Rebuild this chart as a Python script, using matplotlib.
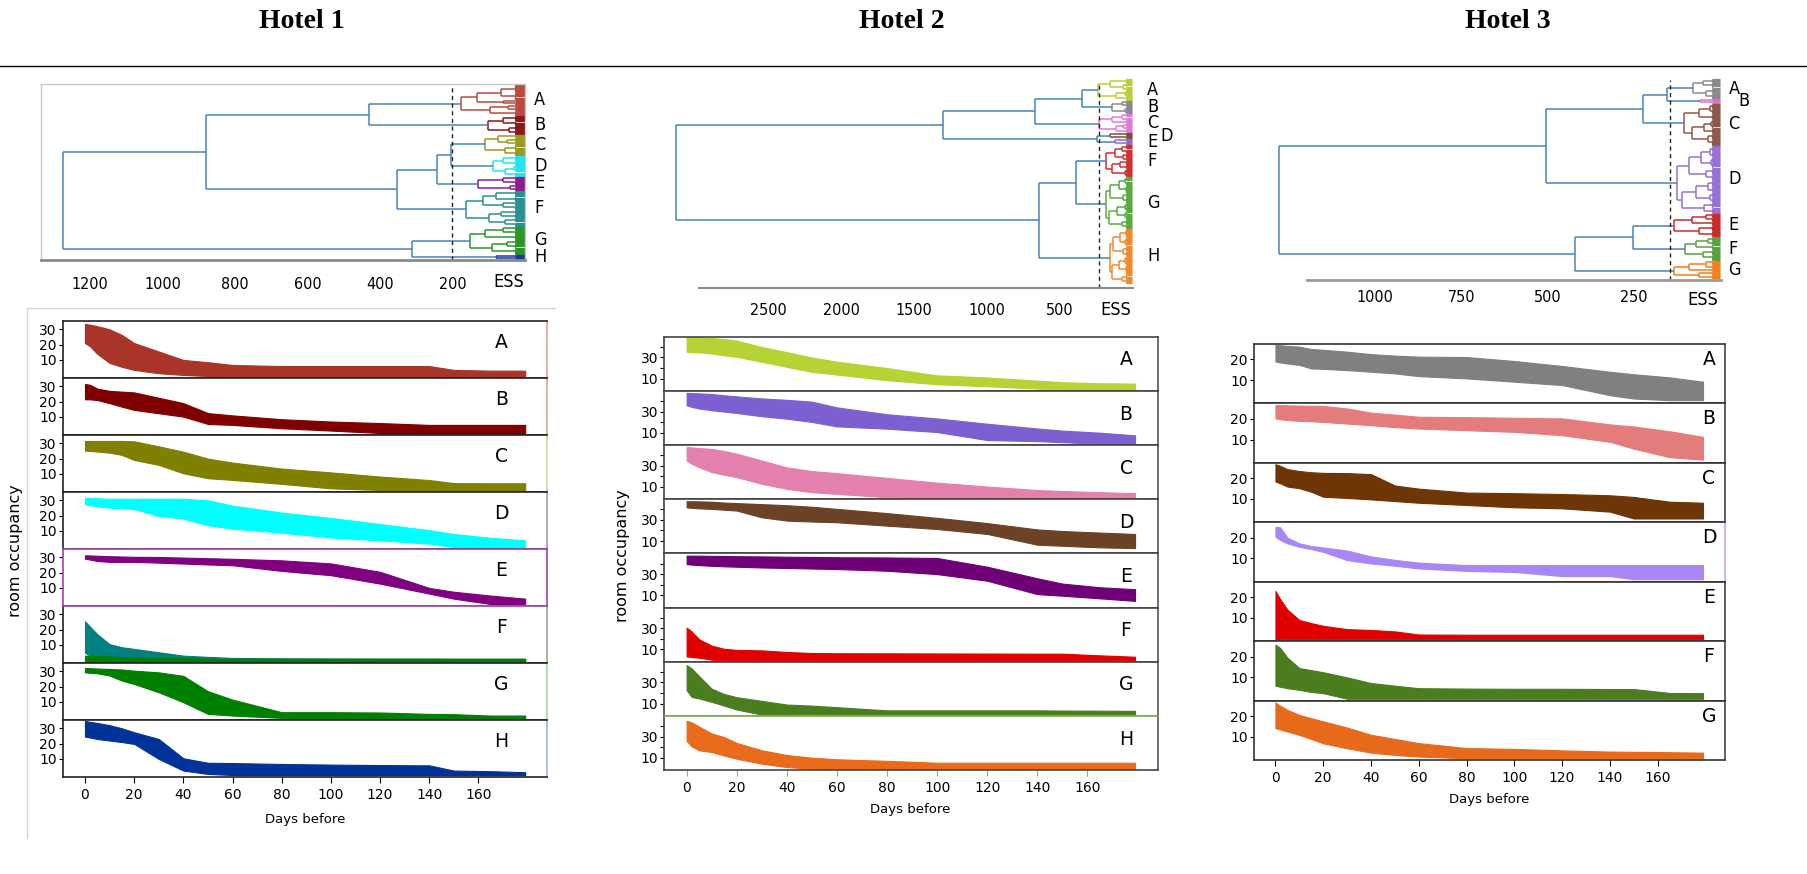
import numpy as np
import matplotlib
matplotlib.use("Agg")
import matplotlib.pyplot as plt
from matplotlib.collections import LineCollection
from matplotlib.lines import Line2D
from matplotlib.font_manager import FontProperties

W, H, DPI = 1807, 874, 100

# ------------------------------------------------------------------ data
DAYS = [0, 2, 5, 10, 15, 20, 30, 40, 50, 60, 80, 100, 120, 140, 150, 165, 179]
N5 = -0.5

# ---- Hotel 1 booking-curve envelopes (room occupancy) ----
H1_CLUSTERS = ["A", "B", "C", "D", "E", "F", "G", "H"]
H1_LINE_COLORS = ["#a83528", "#800000", "#808000", "#00ffff", "#800080", "#008080", "#008000", "#00339a"]
H1_UPPER = [
    [33.5, 33, 32, 30, 26.3, 21, 15.5, 10, 8.5, 6.7, 6, 6, 6, 6, 3.5, 3, 3],
    [31.5, 31, 28.5, 27, 26.5, 26, 22.5, 19, 12.5, 11, 8.5, 7, 6, 4.8, 4.8, 4.8, 4.8],
    [31.5, 31.5, 31.5, 31.5, 31.5, 31.3, 28, 24.5, 20, 17.4, 13.5, 11, 8.3, 6, 4, 3.9, 3.9],
    [31.7, 31.5, 31.3, 31, 31, 31, 31, 31, 30, 26.5, 22, 18.5, 14.5, 10.5, 8, 5.5, 3.9],
    [31.3, 31.2, 31, 30.7, 30.5, 30.3, 30.2, 29.8, 29.4, 29, 28, 26, 20.5, 10, 7.5, 5, 3],
    [25.4, 22, 17, 10.5, 8.5, 7.4, 5.2, 3, 2.2, 1.5, 1.2, 1.1, 1, 1, 0.9, 0.9, 0.9],
    [32.2, 32, 31.8, 31.5, 31.2, 30.4, 29.3, 27, 17, 11.5, 3.3, 3.3, 3.1, 2.2, 2, 1.1, 1.1],
    [34.8, 34.2, 33.5, 32, 30, 27.4, 23, 10.4, 7.5, 7.3, 6.7, 6.3, 6, 5.8, 2.4, 2, 1.3],
]
H1_LOWER = [
    [21, 19, 14, 8, 5.5, 3.5, 1.3, 0.2, N5, N5, N5, N5, N5, N5, N5, N5, N5],
    [21.5, 21.5, 21, 19, 16.7, 14.6, 12.4, 10.2, 5.4, 4.8, 2.6, 1.1, N5, N5, N5, N5, N5],
    [25.2, 25, 24.6, 23.9, 22.4, 19.1, 15.9, 10.4, 7.2, 6.1, 3.5, 0.6, N5, N5, N5, N5, N5],
    [27.4, 26.8, 26, 25.2, 24.8, 24.3, 19.8, 18, 13.7, 11.5, 8.9, 5.7, 3.9, 1.7, N5, N5, N5],
    [29.1, 28.5, 27.6, 27, 27, 27, 26.5, 25.9, 25.3, 24.8, 21.1, 18.3, 12.8, 6.3, 3, N5, N5],
    [5, 3, 1.5, 0.5, N5, N5, N5, N5, N5, N5, N5, N5, N5, N5, N5, N5, N5],
    [29.3, 29, 28.7, 27.2, 23.9, 21.7, 16.3, 9.8, 2.2, 1.1, -0.4, N5, N5, N5, N5, N5, N5],
    [24.6, 24, 23, 22, 21, 19.8, 10, 2.4, 0.2, N5, N5, N5, N5, N5, N5, N5, N5],
]
# green curves lying under cluster F in hotel 1
H1_F_OVERLAP_UPPER = [3, 3, 2.8, 2.5, 2, 2, 1.5, 1.5, 1, 1, 1, 1, 1, 1, 1, 1, 1]

# ---- Hotel 1 dendrogram (ESS heights) ----
H1_TREE = [1274, [880, [430, "A", "B"], [353, [242, [203, "C", "D"], "E"], "F"]], [312, "G", "H"]]
H1_SUBTREES = {
    "A": [177, [132, [66, 8, 7], [60, 2, 2]], [97, [48, 3, 3], 5]],
    "B": [103, [60, 5, 4], [45, 5, 4]],
    "C": [110, [75, 3, [50, 4, 3]], [55, 5, 5]],
    "D": [89, [60, 5, 5], [55, [30, 3, 3], 4]],
    "E": [131, [60, 4, 4], [40, 3, 3]],
    "F": [163, [115, [80, 5, 5], [60, 4, 4]], [100, [65, 4, 4], [55, 4, 4]]],
    "G": [152, [110, [60, 4, 4], 5], [90, [50, 4, 4], 6]],
    "H": [81, 3, 2],
}
H1_TREE_COLORS = {"A": "#bb4b40", "B": "#8b1616", "C": "#9a9a1e", "D": "#22e4f2",
                  "E": "#8e1a8e", "F": "#2a9090", "G": "#2a962a", "H": "#1a3aa0"}
H1_CUT = 200
H1_ESS_TICKS = [1200, 1000, 800, 600, 400, 200]

# ---- Hotel 2 ----
H2_CLUSTERS = ["A", "B", "C", "D", "E", "F", "G", "H"]
H2_LINE_COLORS = ["#b5d334", "#7c60d2", "#e480ad", "#6b4226", "#6f0077", "#e00000", "#4a7d1e", "#e86a1a"]
H2_UPPER = [
    [49, 49, 49, 48.5, 47.5, 46, 40, 35, 30, 26, 20, 13, 11, 8, 6.5, 5.5, 5.2],
    [47.8, 47.6, 47.3, 46.7, 45.5, 44.5, 42.5, 41.2, 39.5, 34, 27.5, 23.5, 18.5, 14, 12, 10, 7.5],
    [47.8, 47.5, 46.8, 46, 44, 41.5, 35, 28.5, 25, 23, 18.5, 14, 10.3, 7, 6, 5, 4],
    [47.8, 47.8, 47.6, 47.3, 46.5, 46, 45, 44, 42.5, 40.5, 36.5, 32, 27, 21, 19.5, 18, 16.7],
    [47.5, 47.5, 47.5, 47.3, 47.2, 47, 46.8, 46.5, 46.3, 46, 45.8, 45.3, 37, 26, 21, 17.5, 15.7],
    [30.6, 27, 19.5, 13.5, 10.5, 9.5, 9, 7.5, 6.5, 6.3, 6.2, 6.1, 6, 5.9, 5.9, 4.3, 3],
    [46.5, 43.3, 36, 24, 19, 16, 12.5, 9, 8, 6.5, 3.5, 3.5, 3.5, 3.5, 3.3, 3.2, 3],
    [44.9, 43.5, 39.5, 33, 29.5, 24, 17, 12.5, 10, 8.5, 7, 5.2, 5.2, 5.2, 5.2, 5.2, 5.2],
]
H2_LOWER = [
    [35.4, 35, 34.8, 33.8, 32, 30.6, 25.9, 21.1, 16.3, 13.8, 8.4, 4.6, 2.7, 0.5, N5, N5, N5],
    [36, 34.5, 32.9, 31.3, 30, 28.7, 25.6, 23.3, 20.2, 16, 13.8, 10.6, 3, 2, 1, N5, N5],
    [35.1, 31.9, 28.7, 24, 21.5, 19.2, 12.9, 8.1, 4.9, 3.3, 0.2, N5, N5, N5, N5, N5, N5],
    [42, 41.5, 41, 40.5, 39.7, 38.9, 32.5, 29.4, 28.5, 27.8, 24.6, 21.4, 16.7, 6.5, 5.5, 4, 3.3],
    [39.5, 39, 38.5, 37.9, 37.4, 37, 36.3, 35.8, 35.3, 34.8, 33.2, 30, 23.7, 11, 9.5, 7, 4.6],
    [3.3, 2.7, 2.1, 0.2, N5, N5, N5, N5, N5, N5, N5, N5, N5, N5, N5, N5, N5],
    [22.7, 16.3, 14.8, 11.6, 8, 4.3, N5, N5, N5, N5, N5, N5, N5, N5, N5, N5, N5],
    [25.9, 20.8, 17, 15.4, 12, 9, 4.3, 1.1, N5, N5, N5, N5, N5, N5, N5, N5, N5],
]
H2_TREE = [3132, [1297, [666, [342, "A", "B"], "C"], [242, "D", "E"]], [637, [382, "F", "G"], "H"]]
H2_SUBTREES = {
    "A": [231, [150, 5, [60, 3, 3]], [110, [50, 3, 3], 4]],
    "B": [137, [70, 3, 3], [50, 4, 3]],
    "C": [224, [140, [70, 3, 3], 3], [110, [60, 3, 3], 3]],
    "D": [153, 3, 3],
    "E": [118, 3, 3],
    "F": [179, [120, [70, 4, 4], [60, 4, 3]], [140, [80, 4, 4], [50, 4, 4]]],
    "G": [179, [150, [90, [50, 4, 4], [40, 4, 4]], [60, 4, 5]], [160, [100, [50, 4, 4], [45, 4, 4]], [70, 5, 4]]],
    "H": [153, [130, [80, [40, 4, 5], [45, 4, 4]], [60, 5, 5]], [140, [90, [50, 4, 4], [40, 4, 5]], [70, 5, 4]]],
}
H2_TREE_COLORS = {"A": "#bccc3a", "B": "#8a8a8a", "C": "#de7cd8", "D": "#7a5040",
                  "E": "#8e6ac8", "F": "#d03030", "G": "#5aaa40", "H": "#f08a30"}
H2_CUT = 229
H2_ESS_TICKS = [2500, 2000, 1500, 1000, 500]

# ---- Hotel 3 ----
H3_CLUSTERS = ["A", "B", "C", "D", "E", "F", "G"]
H3_LINE_COLORS = ["#808080", "#e47c7c", "#6e3506", "#a886f6", "#e00000", "#4a7d1e", "#e66a1a"]
H3_UPPER = [
    [26.9, 26.8, 26.5, 26.1, 25, 24.6, 23.7, 22.5, 21.8, 21.3, 21.1, 19.2, 16.8, 14, 12.8, 11.3, 9.2],
    [26.6, 26.6, 26.5, 26.4, 26.3, 26.2, 25, 23, 22, 21, 20.8, 20.5, 20.2, 17.3, 16.3, 14, 11.3],
    [26.8, 26, 24.4, 23.5, 22.9, 22.6, 22.5, 22, 16.5, 15, 13.1, 12.8, 12.4, 11.8, 11, 8.7, 8.2],
    [25.3, 25, 20, 17.3, 16, 15.3, 13.8, 11, 9.3, 8, 6.8, 6.8, 6.8, 6.8, 6.8, 6.8, 6.8],
    [23, 19, 14, 9, 7.5, 6.2, 4.6, 4.2, 3.5, 2, 1.9, 1.9, 1.9, 1.9, 1.9, 1.9, 1.9],
    [25.8, 24.2, 19.5, 14.5, 13.5, 12.5, 10, 7.3, 6, 4.8, 4.6, 4.5, 4.5, 4.4, 4.4, 2.5, 2.4],
    [26.6, 25, 23, 20.6, 19, 17.5, 14.5, 11, 9, 7, 4.6, 4.2, 3.5, 2.9, 2.8, 2.6, 2.4],
]
H3_LOWER = [
    [18.9, 18.5, 18, 17.3, 15.6, 15.4, 14.8, 14, 13.2, 11.9, 10.8, 9.2, 7.6, 2.7, 1.1, 0.3, 0.3],
    [20.2, 19.8, 19.4, 19, 18.8, 18.5, 17.7, 16.9, 16, 15.3, 14.5, 13.7, 12.1, 8.9, 5.6, 1.5, 0.3],
    [18.4, 17.6, 16, 15.2, 13.5, 11.1, 10.5, 9.8, 9, 8.2, 7.1, 6, 5.5, 3.9, 0.6, 0.6, 0.6],
    [20.5, 18.9, 17.3, 15.6, 14.5, 13.2, 9.2, 7.6, 6.5, 5.2, 4, 3.5, 1.5, 1.5, 0, 0, 0],
    [-0.3, -0.3, -0.3, -0.3, -0.3, -0.3, -0.3, -0.3, -0.3, -0.3, -0.3, -0.3, -0.3, -0.3, -0.3, -0.3, -0.3],
    [6, 5.5, 4.8, 4, 3, 2.4, -0.3, -0.3, -0.3, -0.3, -0.3, -0.3, -0.3, -0.3, -0.3, -0.3, -0.3],
    [14.2, 13.6, 12.6, 11, 9, 6.9, 4.5, 2.4, 1.3, 0.5, -0.3, -0.3, -0.3, -0.3, -0.3, -0.3, -0.3],
]
H3_TREE = [1280, [504, [223, [155, "A", "B"], "C"], "D"], [419, [253, "E", "F"], "G"]]
H3_SUBTREES = {
    "A": [77, [50, 4, 5], [40, 5, 5]],
    "B": [59, 3, 2],
    "C": [105, [60, [30, 5, 5], 6], [80, [45, [25, 4, 4], 5], [35, 6, 6]]],
    "D": [126, [90, [55, [30, 6, 6], [25, 5, 5]], [40, 6, 6]], [110, [70, [35, 6, 6], [30, 5, 5]], [45, 5, 5]]],
    "E": [133, [80, [40, 4, 4], 4], [60, 5, 6]],
    "F": [101, [70, [35, 4, 4], 4], [50, 5, 6]],
    "G": [133, [90, [40, 4, 4], 2], [60, 4, 4]],
}
H3_TREE_COLORS = {"A": "#8a8a8a", "B": "#e070c8", "C": "#8c5a4a", "D": "#9a70d0",
                  "E": "#cc2a2a", "F": "#5aa040", "G": "#f08020"}
H3_CUT = 146
H3_ESS_TICKS = [1000, 750, 500, 250]

LINK_BLUE = "#4682c0"
DAY_TICKS = [0, 20, 40, 60, 80, 100, 120, 140, 160]

# ------------------------------------------------------------------ helpers
fig = plt.figure(figsize=(W / DPI, H / DPI), dpi=DPI)
COND = FontProperties(family="DejaVu Sans", stretch="condensed", size=11.5)
COND_LBL = FontProperties(family="DejaVu Sans", stretch="condensed", size=13)


def ax_px(x0, y0, x1, y1):
    return fig.add_axes([x0 / W, 1 - y1 / H, (x1 - x0) / W, (y1 - y0) / H])


def draw_dendro(ax, tree, subtrees, colors, comb_h, lw=1.1):
    segs, cols, lws = [], [], []
    counter = [0]
    spans = {}

    def add(p0, p1, c, w):
        segs.append([p0, p1]); cols.append(c); lws.append(w)

    def rec(node, color):
        if isinstance(node, str):
            start = counter[0]
            r = rec(subtrees[node], colors[node])
            spans[node] = (start, counter[0] - 1)
            return r
        if isinstance(node, int):
            ys = list(range(counter[0], counter[0] + node))
            counter[0] += node
            for y in ys:
                add((comb_h, y), (0, y), color, 0.9)
            add((comb_h, ys[0]), (comb_h, ys[-1]), color, 0.9)
            return (ys[0] + ys[-1]) / 2.0, comb_h
        h = node[0]
        kids = [rec(c, color) for c in node[1:]]
        for ky, kh in kids:
            add((h, ky), (kh, ky), color, lw)
        add((h, kids[0][0]), (h, kids[-1][0]), color, lw)
        return (kids[0][0] + kids[-1][0]) / 2.0, h

    rec(tree, LINK_BLUE)
    lc = LineCollection(segs, colors=cols, linewidths=lws, clip_on=False)
    ax.add_collection(lc)
    return counter[0], spans


def leaf_ylim(ax_top, ax_bot, first, last, n):
    s = (last - first) / (n - 1)
    return (n - 1) + (ax_bot - last) / s, -(first - ax_top) / s


def dendro(box, xlim, leaf_px, tree, subtrees, colors, comb_h, cut, cut_frac, ticks,
           tick_pad, label_dx, label_extra, ess_xy, boxed, spine_bounds, spine_c, spine_w):
    x0, y0, x1, y1 = box
    ax = ax_px(x0, y0, x1, y1)
    n, spans = draw_dendro(ax, tree, subtrees, colors, comb_h)
    ax.set_xlim(*xlim)
    ax.set_ylim(*leaf_ylim(y0, y1, leaf_px[0], leaf_px[1], n))
    ax.axvline(cut, ymin=0, ymax=cut_frac, color="#222222", lw=1.0, ls=(0, (3, 2.5)))
    ax.set_yticks([])
    ax.set_xticks(ticks)
    ax.set_xticklabels([str(t) for t in ticks], fontproperties=COND)
    ax.tick_params(axis="x", length=0, pad=tick_pad)
    ax.patch.set_alpha(0)
    for k, s in ax.spines.items():
        if k == "bottom":
            s.set_color(spine_c); s.set_linewidth(spine_w)
            if spine_bounds is not None:
                s.set_bounds(*spine_bounds)
        elif boxed:
            s.set_color("#c8c8c8"); s.set_linewidth(1.0)
        else:
            s.set_visible(False)
    for name, (a, b) in spans.items():
        dx = label_dx + label_extra.get(name, 0)
        ax.annotate(name, xy=(0, (a + b) / 2.0), xycoords="data",
                    xytext=(dx * 0.72, 0), textcoords="offset points",
                    ha="left", va="center", fontproperties=COND_LBL,
                    annotation_clip=False)
    fig.text(ess_xy[0] / W, 1 - ess_xy[1] / H, "ESS", ha="center", va="center",
             fontproperties=COND_LBL)
    return ax


def panels(x0, x1, top, bot, labels, colors, ups, los, ylim, yticks, ytl,
           letter_xy, right_edges, spine_c, xtick_c):
    n = len(labels)
    h = (bot - top) / n
    axs = []
    for i in range(n):
        ax = ax_px(x0, top + i * h, x1, top + (i + 1) * h)
        ax.fill_between(DAYS, los[i], ups[i], color=colors[i], lw=0.8)
        ax.set_xlim(-8.9, 188)
        ax.set_ylim(*ylim)
        ax.set_yticks(yticks)
        ax.set_yticklabels(ytl)
        ax.tick_params(axis="y", labelsize=10, length=3, pad=1.5, width=0.8)
        for s in ax.spines.values():
            s.set_color(spine_c); s.set_linewidth(1.2)
        ax.spines["right"].set_color(right_edges[i])
        ax.text(letter_xy[0], letter_xy[1], labels[i], transform=ax.transAxes,
                fontsize=13.5, ha="center", va="center")
        if i < n - 1:
            ax.set_xticks([])
        else:
            ax.set_xticks(DAY_TICKS)
            ax.tick_params(axis="x", labelsize=10, length=4, pad=4, color=xtick_c, width=0.8)
        axs.append(ax)
    return axs


# ------------------------------------------------------------------ titles
for x, t in [(302, "Hotel 1"), (902, "Hotel 2"), (1508, "Hotel 3")]:
    fig.text(x / W, 1 - 21 / H, t, ha="center", va="center", fontsize=20,
             fontweight="bold", family="Liberation Serif")
fig.add_artist(Line2D([0, 1], [1 - 65.5 / H] * 2, color="black", lw=1.0))

# ------------------------------------------------------------------ dendrograms
dendro((41, 84, 525, 260), (1335, 0), (85, 259), H1_TREE, H1_SUBTREES, H1_TREE_COLORS,
       28, H1_CUT, 1.0, H1_ESS_TICKS, 12, 9, {}, (509, 282), True, None, "#8a8a8a", 2.0)
dendro((660, 75, 1133, 288), (3245, -7), (79.3, 282.7), H2_TREE, H2_SUBTREES, H2_TREE_COLORS,
       38, H2_CUT, 0.968, H2_ESS_TICKS, 11, 15, {"D": 13}, (1116, 310), False, (2980, -7),
       "#8a8a8a", 1.5)
dendro((1270, 75, 1721, 280), (1305, -3), (79.3, 278.3), H3_TREE, H3_SUBTREES, H3_TREE_COLORS,
       22, H3_CUT, 0.975, H3_ESS_TICKS, 7.5, 8.5, {"B": 10}, (1703, 300), False, (1199, -3),
       "#9a9a9a", 2.0)

# ------------------------------------------------------------------ booking curves
purple = "#a040a8"
h1_edges = ["#e0a0a0", "#e0a0a0", "#d8d890", "#a0a0a0", purple, "#a0a0a0", "#a0e0a0", "#a0b0f0"]
ax1 = panels(63.1, 547.3, 320.7, 776.7, H1_CLUSTERS, H1_LINE_COLORS, H1_UPPER, H1_LOWER,
             (-1.6, 35.6), [10, 20, 30], ["10", "20", "30"], (0.905, 0.614), h1_edges,
             "#222222", "black")
for s in ax1[4].spines.values():
    s.set_color(purple)
ax1[5].spines["top"].set_color(purple)
ax1[5].fill_between(DAYS, [N5] * len(DAYS), H1_F_OVERLAP_UPPER, color=H1_LINE_COLORS[6], lw=0.8)

h2_edges = ["#555555"] * 8
ax2 = panels(664.3, 1157.6, 336.7, 770, H2_CLUSTERS, H2_LINE_COLORS, H2_UPPER, H2_LOWER,
             (-1.7, 49.7), [10, 20, 30, 40], ["10", "", "30", ""], (0.936, 0.57), h2_edges,
             "#444444", "#f08a40")
ax2[6].spines["bottom"].set_color("#7aaa50")
ax2[7].spines["top"].set_color("#7aaa50")

h3_edges = ["#444444", "#444444", "#444444", "#c0a8ff", "#444444", "#444444", "#444444"]
ax3 = panels(1254.2, 1724.5, 344, 760.3, H3_CLUSTERS, H3_LINE_COLORS, H3_UPPER, H3_LOWER,
             (-1.3, 27.4), [10, 20], ["10", "20"], (0.967, 0.74), h3_edges,
             "#333333", "black")

# axis labels
for x, y in [(305, 819), (910, 810), (1489.5, 799.3)]:
    fig.text(x / W, 1 - y / H, "Days before", ha="center", va="center", fontsize=9.5)
for x, y in [(16, 551), (622, 556)]:
    fig.text(x / W, 1 - y / H, "room occupancy", ha="center", va="center",
             fontsize=11.5, rotation=90)

# light frame around hotel-1 panels
fig.add_artist(Line2D([26.8 / W, 26.8 / W], [1 - 308 / H, 1 - 838 / H], color="#d4d4d4", lw=1.0))
fig.add_artist(Line2D([26.8 / W, 555 / W], [1 - 308 / H, 1 - 308 / H], color="#d4d4d4", lw=1.0))

fig.savefig("out.png", dpi=DPI)
